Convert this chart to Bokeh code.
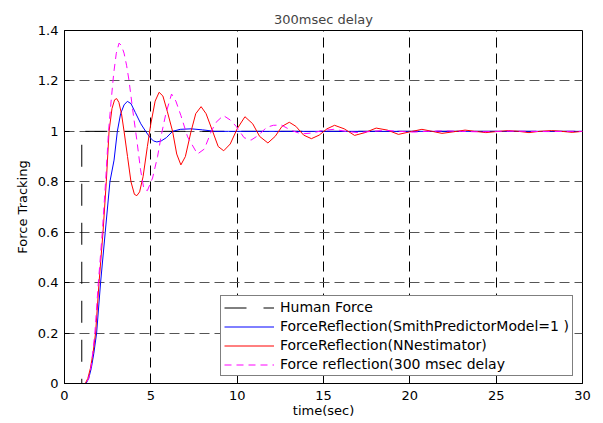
from bokeh.plotting import figure
from bokeh.models import Legend, LegendItem, FixedTicker, Range1d
from bokeh.embed import file_html
from bokeh.resources import INLINE

# ---- data ----
hf_t = [0, 1, 1, 30]
hf_v = [0, 0, 1, 1]

smith_t = [0, 1.25, 1.4, 1.55, 1.7, 1.86, 2.09, 2.36, 2.63, 2.87, 3.06, 3.25, 3.45,
           3.64, 3.85, 4.1, 4.42, 4.7, 4.96, 5.15, 5.35, 5.6, 5.9, 6.26, 6.7, 7.33,
           8.0, 8.7, 9.5, 30]
smith_v = [0, 0, 0.02, 0.06, 0.12, 0.2, 0.4, 0.6, 0.8, 0.886, 1.0, 1.07, 1.105,
           1.119, 1.11, 1.075, 1.03, 1.0, 0.975, 0.962, 0.958, 0.962, 0.975, 1.0,
           1.008, 1.01, 1.006, 1.0, 1.0, 1.0]

nn_t = [0, 1.2, 1.35, 1.5, 1.65, 1.8, 2.0, 2.23, 2.42, 2.58, 2.75, 2.9, 3.02, 3.15,
        3.3, 3.45, 3.65, 3.85, 4.05, 4.19, 4.35, 4.55, 4.8, 5.0, 5.25, 5.48, 5.7,
        5.95, 6.26, 6.5, 6.74, 7.0, 7.33, 7.6, 7.91, 8.2, 8.58, 8.9, 9.22, 9.6, 10.0,
        10.45, 10.9, 11.3, 11.78, 12.2, 12.6, 13.02, 13.4, 13.85, 14.3, 14.75, 15.2,
        15.64, 16.2, 16.8, 17.4, 18.05, 18.7, 19.34, 20.0, 20.7, 21.3, 21.86, 22.5,
        23.2, 23.8, 24.4, 25.0, 25.7, 26.3, 26.9, 27.5, 28.2, 28.8, 29.4, 30]
nn_v = [0, 0, 0.02, 0.06, 0.12, 0.2, 0.4, 0.6, 0.8, 1.0, 1.09, 1.125, 1.13, 1.115,
        1.07, 1.0, 0.9, 0.8, 0.75, 0.745, 0.76, 0.82, 0.94, 1.03, 1.12, 1.155, 1.14,
        1.08, 1.0, 0.91, 0.867, 0.9, 1.0, 1.07, 1.098, 1.07, 1.0, 0.94, 0.923, 0.95,
        1.01, 1.058, 1.03, 0.98, 0.954, 0.98, 1.02, 1.036, 1.02, 0.985, 0.971, 0.985,
        1.01, 1.024, 1.01, 0.984, 0.995, 1.013, 1.005, 0.988, 0.998, 1.008, 1.0,
        0.992, 0.998, 1.005, 1.0, 0.995, 0.999, 1.003, 1.0, 0.995, 1.0, 1.003, 1.0,
        0.996, 1.0]

delay_t = [0, 1.25, 1.4, 1.55, 1.76, 1.96, 2.19, 2.38, 2.55, 2.7, 2.85, 3.0, 3.16,
           3.3, 3.45, 3.6, 3.74, 3.93, 4.19, 4.4, 4.6, 4.8, 5.1, 5.39, 5.62, 5.87,
           6.2, 6.45, 6.74, 7.13, 7.7, 8.1, 8.5, 8.78, 9.2, 9.6, 9.94, 10.4, 10.8,
           11.25, 11.7, 12.1, 12.56, 13.1, 13.7, 14.3, 15.0, 15.6, 16.3, 17.0, 17.8,
           18.6, 19.4, 20.2, 21.0, 22, 23, 24, 25, 26, 27, 28, 29, 30]
delay_v = [0, 0, 0.02, 0.07, 0.2, 0.4, 0.6, 0.8, 1.0, 1.12, 1.23, 1.31, 1.35, 1.34,
           1.31, 1.26, 1.2, 1.095, 0.965, 0.85, 0.77, 0.765, 0.815, 0.9, 0.99, 1.07,
           1.148, 1.12, 1.063, 0.978, 0.91, 0.93, 1.0, 1.036, 1.063, 1.045, 1.02,
           0.975, 0.965, 0.985, 1.016, 1.024, 1.025, 1.005, 0.99, 0.993, 1.004, 1.008,
           1.0, 0.995, 1.0, 1.004, 1.0, 0.997, 1.0, 1.002, 1.0, 0.998, 1.0, 1.001,
           1.0, 0.999, 1.0, 1.0]

x_ticks = [0, 5, 10, 15, 20, 25, 30]
y_ticks = [0, 0.2, 0.4, 0.6, 0.8, 1.0, 1.2, 1.4]
y_labels = {0: "0", 0.2: "0.2", 0.4: "0.4", 0.6: "0.6", 0.8: "0.8", 1.0: "1",
            1.2: "1.2", 1.4: "1.4"}

labels = ["Human Force", "ForceReflection(SmithPredictorModel=1 )",
          "ForceReflection(NNestimator)", "Force reflection(300 msec delay"]

FONT = "DejaVu Sans"

p = figure(width=595, height=420, output_backend="svg", toolbar_location=None,
           x_range=Range1d(0, 30), y_range=Range1d(0, 1.4),
           min_border_left=64, min_border_right=13, min_border_top=30,
           min_border_bottom=34)

p.title.text = "300msec delay"
p.title.align = "center"
p.title.text_font = FONT
p.title.text_font_size = "13px"
p.title.text_font_style = "normal"
p.title.standoff = 7

p.outline_line_color = "black"
p.outline_line_alpha = 1

for ax in (p.xaxis[0], p.yaxis[0]):
    ax.major_tick_in = 5
    ax.major_tick_out = 0
    ax.minor_tick_in = 0
    ax.minor_tick_out = 0
    ax.axis_line_color = "black"
    ax.major_tick_line_color = "black"
    ax.major_label_text_font = FONT
    ax.major_label_text_font_size = "13px"
    ax.major_label_text_color = "black"
    ax.axis_label_text_font = FONT
    ax.axis_label_text_font_size = "13px"
    ax.axis_label_text_font_style = "normal"
    ax.axis_label_text_color = "black"

p.xaxis[0].ticker = FixedTicker(ticks=x_ticks)
p.yaxis[0].ticker = FixedTicker(ticks=y_ticks)
p.yaxis[0].major_label_overrides = y_labels
p.xaxis[0].axis_label = "time(sec)"
p.yaxis[0].axis_label = "Force Tracking"
p.xaxis[0].major_label_standoff = 7
p.xaxis[0].axis_label_standoff = 0
p.yaxis[0].major_label_standoff = 6
p.yaxis[0].axis_label_standoff = 5

p.xgrid.ticker = FixedTicker(ticks=x_ticks)
p.ygrid.ticker = FixedTicker(ticks=y_ticks)
p.xgrid.grid_line_color = "black"
p.xgrid.grid_line_dash = "10 6"
p.ygrid.grid_line_color = "#555555"
p.ygrid.grid_line_dash = "10 5"

r_hf = p.line(hf_t, hf_v, line_color="black", line_width=1, line_dash="22 17")
r_sm = p.line(smith_t, smith_v, line_color="#0000ff", line_width=1)
r_nn = p.line(nn_t, nn_v, line_color="#ff0000", line_width=1)
r_dl = p.line(delay_t, delay_v, line_color="#ff00ff", line_width=1, line_dash="7 5")

legend = Legend(items=[LegendItem(label=labels[0], renderers=[r_hf]),
                       LegendItem(label=labels[1], renderers=[r_sm]),
                       LegendItem(label=labels[2], renderers=[r_nn]),
                       LegendItem(label=labels[3], renderers=[r_dl])],
                location=(156, 7))
legend.label_text_font = FONT
legend.label_text_font_size = "14px"
legend.label_text_color = "black"
legend.glyph_width = 50
legend.glyph_height = 15
legend.label_height = 15
legend.label_standoff = 6
legend.spacing = 3
legend.padding = 3
legend.margin = 0
legend.border_line_color = "black"
legend.border_line_width = 1
legend.background_fill_color = "white"
legend.background_fill_alpha = 1
p.add_layout(legend, "center")

open("out.html", "w").write(file_html(p, INLINE))
